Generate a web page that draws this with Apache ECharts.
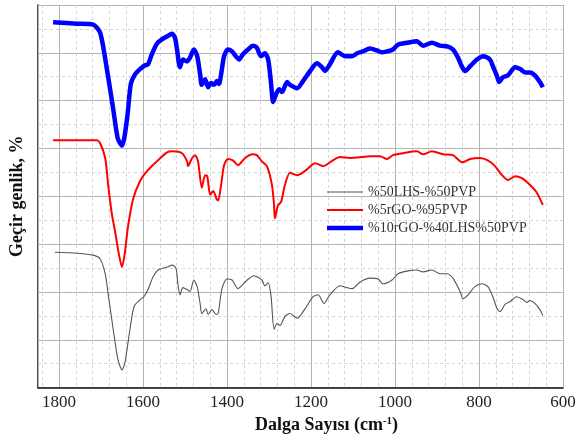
<!DOCTYPE html>
<html>
<head>
<meta charset="utf-8">
<script src="https://cdn.jsdelivr.net/npm/echarts@6/dist/echarts.min.js"></script>
<style>
  html, body { margin: 0; padding: 0; background: #fff; }
  #chart { width: 582px; height: 439px; }
</style>
</head>
<body>
<div id="chart"></div>
<script>
// FTIR transmittance spectra, [wavenumber (cm-1), transmittance (arbitrary offset units)]
const seriesNames = ['%50LHS-%50PVP', '%5rGO-%95PVP', '%10rGO-%40LHS%50PVP'];

const lhsPvp = [
  [1810, 2.83], [1757, 2.81], [1719, 2.77], [1702, 2.69], [1690, 2.38], [1683, 1.96],
  [1671, 1.22], [1660, 0.60], [1650, 0.37], [1643, 0.52], [1631, 1.22], [1621, 1.70],
  [1607, 1.84], [1598, 1.90], [1588, 2.05], [1576, 2.32], [1564, 2.46], [1543, 2.52],
  [1529, 2.56], [1521, 2.48], [1517, 2.17], [1512, 1.94], [1505, 2.09], [1495, 2.05],
  [1488, 2.01], [1479, 2.25], [1471, 2.11], [1464, 1.76], [1460, 1.55], [1450, 1.65],
  [1445, 1.53], [1436, 1.63], [1426, 1.53], [1421, 1.55], [1412, 2.07], [1400, 2.27],
  [1388, 2.25], [1374, 2.07], [1352, 2.25], [1336, 2.34], [1317, 2.25], [1310, 2.13],
  [1302, 2.19], [1295, 1.90], [1288, 1.22], [1281, 1.34], [1274, 1.30], [1262, 1.49],
  [1250, 1.55], [1233, 1.45], [1214, 1.65], [1195, 1.90], [1183, 1.94], [1169, 1.76],
  [1155, 1.94], [1131, 2.13], [1114, 2.09], [1102, 2.07], [1083, 2.21], [1060, 2.29],
  [1040, 2.27], [1029, 2.17], [1007, 2.25], [993, 2.38], [969, 2.44], [948, 2.46],
  [933, 2.42], [912, 2.46], [893, 2.38], [876, 2.38], [862, 2.29], [845, 2.01],
  [838, 1.86], [826, 1.94], [810, 2.11], [793, 2.17], [779, 2.11], [767, 1.90],
  [757, 1.65], [750, 1.59], [738, 1.74], [726, 1.80], [710, 1.90], [695, 1.84],
  [686, 1.78], [679, 1.82], [667, 1.76], [655, 1.63], [648, 1.51]
];

const rgoPvp = [
  [1814, 5.17], [1757, 5.17], [1710, 5.17], [1702, 5.11], [1690, 4.80], [1683, 4.24],
  [1674, 3.62], [1667, 3.29], [1657, 2.77], [1650, 2.52], [1643, 2.83], [1636, 3.35],
  [1624, 3.93], [1607, 4.32], [1590, 4.53], [1567, 4.73], [1543, 4.92], [1529, 4.94],
  [1507, 4.90], [1495, 4.73], [1493, 4.63], [1483, 4.80], [1476, 4.86], [1469, 4.73],
  [1460, 4.18], [1452, 4.44], [1447, 4.42], [1440, 4.03], [1433, 4.11], [1424, 3.93],
  [1421, 3.91], [1414, 4.24], [1407, 4.65], [1398, 4.78], [1386, 4.75], [1374, 4.65],
  [1357, 4.80], [1340, 4.88], [1329, 4.86], [1317, 4.73], [1305, 4.63], [1293, 4.24],
  [1288, 3.82], [1286, 3.54], [1279, 3.80], [1271, 3.89], [1262, 4.24], [1250, 4.49],
  [1233, 4.44], [1214, 4.53], [1190, 4.69], [1171, 4.63], [1148, 4.75], [1131, 4.82],
  [1107, 4.80], [1079, 4.82], [1060, 4.84], [1036, 4.84], [1019, 4.78], [1005, 4.86],
  [981, 4.90], [948, 4.94], [933, 4.88], [912, 4.94], [886, 4.88], [862, 4.86],
  [840, 4.71], [821, 4.78], [798, 4.80], [779, 4.75], [762, 4.63], [745, 4.44],
  [731, 4.34], [714, 4.42], [698, 4.38], [679, 4.24], [662, 4.07], [648, 3.82]
];

const rgoLhsPvp = [
  [1814, 7.64], [1757, 7.61], [1719, 7.59], [1702, 7.42], [1686, 6.66], [1671, 5.83],
  [1660, 5.21], [1650, 5.06], [1638, 5.62], [1629, 6.35], [1619, 6.55], [1607, 6.66],
  [1595, 6.74], [1588, 6.76], [1579, 6.97], [1567, 7.19], [1555, 7.28], [1543, 7.34],
  [1531, 7.40], [1524, 7.32], [1519, 7.07], [1512, 6.70], [1505, 6.86], [1495, 6.82],
  [1488, 6.90], [1479, 7.07], [1471, 6.93], [1464, 6.55], [1460, 6.33], [1452, 6.45],
  [1445, 6.28], [1438, 6.37], [1431, 6.33], [1424, 6.41], [1419, 6.35], [1414, 6.55],
  [1407, 6.93], [1398, 7.07], [1388, 7.03], [1379, 6.93], [1371, 6.86], [1362, 6.97],
  [1350, 7.07], [1338, 7.15], [1329, 7.11], [1319, 6.93], [1310, 6.99], [1302, 6.86],
  [1295, 6.35], [1290, 5.97], [1283, 6.14], [1276, 6.24], [1269, 6.18], [1257, 6.39],
  [1250, 6.33], [1233, 6.26], [1219, 6.41], [1202, 6.62], [1186, 6.78], [1174, 6.70],
  [1167, 6.62], [1155, 6.76], [1136, 7.01], [1119, 6.93], [1102, 6.93], [1090, 6.99],
  [1076, 7.03], [1060, 7.09], [1043, 7.05], [1031, 7.01], [1019, 7.03], [1005, 7.07],
  [993, 7.17], [971, 7.21], [948, 7.24], [933, 7.15], [912, 7.21], [893, 7.15],
  [874, 7.13], [862, 7.07], [850, 6.90], [840, 6.70], [833, 6.62], [821, 6.72],
  [805, 6.86], [790, 6.93], [774, 6.86], [767, 6.72], [757, 6.51], [752, 6.39],
  [743, 6.49], [731, 6.53], [714, 6.70], [702, 6.66], [690, 6.59], [679, 6.59],
  [667, 6.53], [655, 6.39], [648, 6.28]
];

const seriesColors = ['#555555', '#ff0000', '#0000ff'];
const seriesWidths = [1.1, 2, 4.5];

const serif = '"Liberation Serif", "Times New Roman", serif';
const chart = echarts.init(document.getElementById('chart'), null, { renderer: 'canvas' });

const dataSets = [lhsPvp, rgoPvp, rgoLhsPvp];

// plain line swatch of the series' own thickness for each legend entry
const lineIcon = w => 'path://M0,0H36V' + w + 'H0Z';

chart.setOption({
  animation: false,
  backgroundColor: '#ffffff',
  grid: { left: 38, right: 19, top: 5, bottom: 47, containLabel: false },
  legend: {
    orient: 'vertical',
    left: 327,
    top: 185,
    padding: 0,
    itemWidth: 36,
    itemHeight: 14,
    itemGap: 4,
    symbolKeepAspect: true,
    textStyle: { fontFamily: serif, fontSize: 14, color: '#333' },
    data: seriesNames.map((n, i) => ({
      name: n,
      icon: lineIcon(seriesWidths[i]),
      itemStyle: { color: seriesColors[i] }
    }))
  },
  xAxis: [
    {
      type: 'value',
      min: 600,
      max: 1850,
      interval: 200,
      inverse: true,
      z: 1,
      name: '{b|Dalga Sayısı (cm}{s|-1}{b|)}',
      nameLocation: 'middle',
      nameGap: 20,
      nameTextStyle: {
        padding: [0, 0, 0, 52],
        rich: {
          b: { fontFamily: serif, fontSize: 18, fontWeight: 'bold', color: '#111' },
          s: { fontFamily: serif, fontSize: 11, fontWeight: 'bold', color: '#111', padding: [0, 0, 8, 0] }
        }
      },
      axisLine: { show: true, lineStyle: { color: '#111', width: 1.5 } },
      axisTick: { show: false },
      axisLabel: {
        showMaxLabel: false,
        margin: 6,
        fontFamily: serif,
        fontSize: 17,
        color: '#222',
        formatter: v => String(v)
      },
      splitLine: { show: true, lineStyle: { color: '#b4b4b4', width: 1 } }
    },
    {
      // minor grid every 40 cm-1
      type: 'value',
      min: 600,
      max: 1850,
      interval: 40,
      inverse: true,
      z: 0,
      position: 'bottom',
      axisLine: { show: false },
      axisTick: { show: false },
      axisLabel: { show: false },
      splitLine: { show: true, lineStyle: { color: '#d4d4d4', width: 1, type: [3, 3] } }
    }
  ],
  yAxis: {
    type: 'value',
    min: 0,
    max: 8,
    interval: 1,
    name: 'Geçir genlik, %',
    nameLocation: 'middle',
    nameGap: 12,
    nameTextStyle: { fontFamily: serif, fontSize: 18, fontWeight: 'bold', color: '#111' },
    axisLine: { show: true, lineStyle: { color: '#111', width: 1.5 } },
    axisTick: { show: false },
    axisLabel: { show: false },
    splitLine: { show: true, lineStyle: { color: '#b4b4b4', width: 1 } },
    minorTick: { show: false, splitNumber: 2 },
    minorSplitLine: { show: true, lineStyle: { color: '#d4d4d4', width: 1, type: [3, 3] } }
  },
  series: seriesNames.map((n, i) => ({
    name: n,
    type: 'line',
    xAxisIndex: 0,
    data: dataSets[i],
    symbol: 'none',
    smooth: 0.25,
    z: 3 + i,
    lineStyle: { color: seriesColors[i], width: seriesWidths[i] },
    itemStyle: { color: seriesColors[i] }
  }))
});
</script>
</body>
</html>
